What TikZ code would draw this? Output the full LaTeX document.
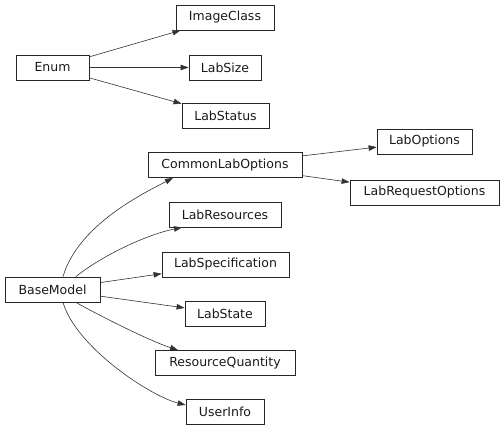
\documentclass[tikz,border=0pt]{standalone}
\usepackage{fontspec}
\setmainfont{DejaVu Sans}
\usetikzlibrary{arrows.meta}
\tikzset{
  cls/.style={draw=black!85, line width=0.8pt, minimum height=25pt, inner sep=0pt,
    font=\fontsize{12.5}{14}\selectfont, text=black!90},
  edge/.style={draw=black!80, line width=0.6pt, -{Triangle[length=8pt,width=5.5pt]}}
}
\begin{document}
\begin{tikzpicture}[x=1pt,y=1pt]
\useasboundingbox (0,0) rectangle (504,431);
\node[cls, minimum width=98pt] (imageclass) at (225,413.5) {ImageClass};
\node[cls, minimum width=73pt] (enum) at (52.5,363.5) {Enum};
\node[cls, minimum width=72pt] (labsize) at (225,363.5) {LabSize};
\node[cls, minimum width=87pt] (labstatus) at (225.5,315) {LabStatus};
\node[cls, minimum width=95pt] (laboptions) at (424.5,289.5) {LabOptions};
\node[cls, minimum width=154pt] (common) at (225,266) {CommonLabOptions};
\node[cls, minimum width=149pt] (labrequest) at (424.5,238.5) {LabRequestOptions};
\node[cls, minimum width=112pt] (labresources) at (225,216.5) {LabResources};
\node[cls, minimum width=127pt] (labspec) at (225.5,166.5) {LabSpecification};
\node[cls, minimum width=95pt] (basemodel) at (52.5,141.5) {BaseModel};
\node[cls, minimum width=80pt] (labstate) at (225,117.5) {LabState};
\node[cls, minimum width=140pt] (resq) at (225,68) {ResourceQuantity};
\node[cls, minimum width=78pt] (userinfo) at (225,19) {UserInfo};

\draw[edge] (enum) -- (imageclass);
\draw[edge] (enum) -- (labsize);
\draw[edge] (enum) -- (labstatus);
\draw[edge] (common) -- (laboptions);
\draw[edge] (common) -- (labrequest);
\draw[edge] (basemodel) -- (labspec);
\draw[edge] (basemodel) -- (labstate);
\draw[edge] ([xshift=10.5pt]basemodel.north) .. controls (78,205) and (140,236) .. ([xshift=-52pt]common.south);
\draw[edge] ([xshift=23.5pt]basemodel.north) .. controls (100,174) and (145,196) .. ([xshift=-43pt]labresources.south);
\draw[edge] ([xshift=23.5pt]basemodel.south) .. controls (100,115) and (150,90) .. ([xshift=-47pt]resq.north);
\draw[edge] ([xshift=10.5pt]basemodel.south) .. controls (76,84) and (150,35) .. ([yshift=7pt]userinfo.west);
\end{tikzpicture}
\end{document}
